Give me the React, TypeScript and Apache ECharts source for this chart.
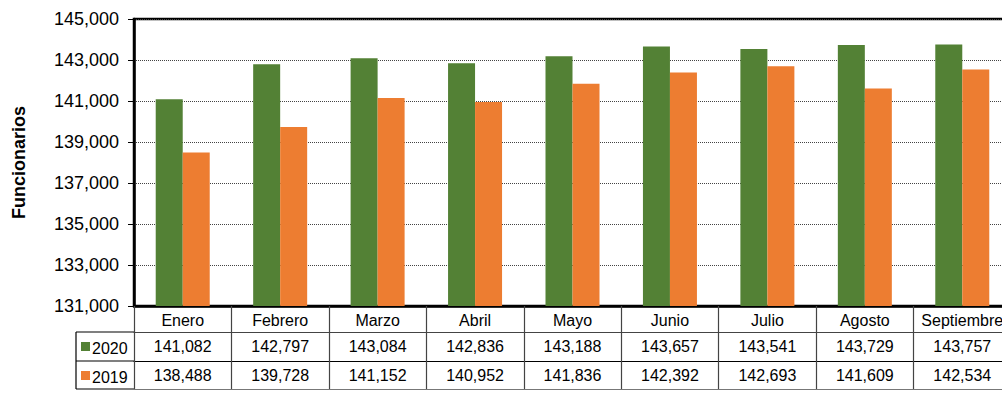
import React, { useEffect, useRef } from "react";
import * as echarts from "echarts";

const months = ["Enero", "Febrero", "Marzo", "Abril", "Mayo", "Junio", "Julio", "Agosto", "Septiembre"];
const values2020 = [141082, 142797, 143084, 142836, 143188, 143657, 143541, 143729, 143757];
const values2019 = [138488, 139728, 141152, 140952, 141836, 142392, 142693, 141609, 142534];
const seriesNames = ["2020", "2019"];
const colors = ["#538135", "#ED7D31"];

const fmt = (v: number) => v.toLocaleString("en-US");
const FONT = "Liberation Sans, Arial, sans-serif";

export default function App() {
  const ref = useRef<HTMLDivElement>(null);
  useEffect(() => {
    const chart = echarts.init(ref.current!, null, { renderer: "svg" });
    const tableAxis = (labels: string[], offset: number, tickLen: number, showTick: boolean, lineColor: string) => ({
      type: "category",
      data: labels,
      position: "bottom",
      offset,
      gridIndex: 0,
      axisLine: { show: true, lineStyle: { color: lineColor, width: 1.2 } },
      axisTick: { show: showTick, interval: 0, length: tickLen, lineStyle: { color: "#444", width: 1.2 } },
      axisLabel: { show: true, interval: 0, margin: 6, color: "#000", fontSize: 16, fontFamily: FONT, hideOverlap: false },
      splitLine: { show: false },
    });
    const legendRows = seriesNames.map((name, i) => ({
      type: "group",
      left: 81,
      top: 340 + i * 29,
      children: [
        { type: "rect", shape: { x: 0, y: 2, width: 9, height: 9 }, style: { fill: colors[i] } },
        { type: "text", x: 11, y: 0, style: { text: name, fontSize: 16, fontFamily: FONT, fill: "#000" } },
      ],
    }));
    chart.setOption({
      animation: false,
      textStyle: { fontFamily: FONT },
      grid: {
        left: 134,
        top: 19,
        width: 877,
        bottom: 114,
        containLabel: false,
        outerBoundsMode: "none",
        show: true,
        borderColor: "#000",
        borderWidth: 2.5,
        backgroundColor: "transparent",
      },
      xAxis: [
        {
          ...tableAxis(months, 0, 26, true, "#000"),
          axisLine: { show: true, lineStyle: { color: "#000", width: 2.5 } },
        },
        tableAxis(values2020.map(fmt), 26, 29, true, "#444"),
        tableAxis(values2019.map(fmt), 55, 28, true, "#000"),
        { ...tableAxis(months, 83, 0, false, "#777"), axisLabel: { show: false } },
      ],
      yAxis: {
        type: "value",
        min: 131000,
        max: 145000,
        interval: 2000,
        name: "Funcionarios",
        nameLocation: "middle",
        nameGap: 106,
        nameTextStyle: { fontSize: 18, fontWeight: "bold", color: "#000" },
        axisLine: { show: true, lineStyle: { color: "#000", width: 2.5 } },
        axisTick: { show: true, length: 6, lineStyle: { color: "#000" } },
        axisLabel: { fontSize: 18, color: "#000", margin: 15, formatter: (v: number) => fmt(v) },
        splitLine: { show: true, lineStyle: { color: "#444", type: [1, 1], width: 1.2 } },
      },
      series: [
        {
          name: seriesNames[0],
          type: "bar",
          data: values2020,
          barWidth: 27,
          barGap: "0%",
          itemStyle: { color: colors[0] },
        },
        {
          name: seriesNames[1],
          type: "bar",
          data: values2019,
          barWidth: 27,
          barGap: "0%",
          itemStyle: { color: colors[1] },
        },
      ],
      graphic: [
        { type: "line", shape: { x1: 76, y1: 332, x2: 134, y2: 332 }, style: { stroke: "#000", lineWidth: 1.2 } },
        { type: "line", shape: { x1: 76, y1: 361, x2: 134, y2: 361 }, style: { stroke: "#000", lineWidth: 1.2 } },
        { type: "line", shape: { x1: 76, y1: 389, x2: 134, y2: 389 }, style: { stroke: "#000", lineWidth: 1.2 } },
        { type: "line", shape: { x1: 76, y1: 332, x2: 76, y2: 389 }, style: { stroke: "#000", lineWidth: 1.2 } },
        ...legendRows,
      ],
    });
    return () => chart.dispose();
  }, []);
  return <div ref={ref} style={{ width: 1002, height: 420, position: "absolute", left: 0, top: 0 }} />;
}
